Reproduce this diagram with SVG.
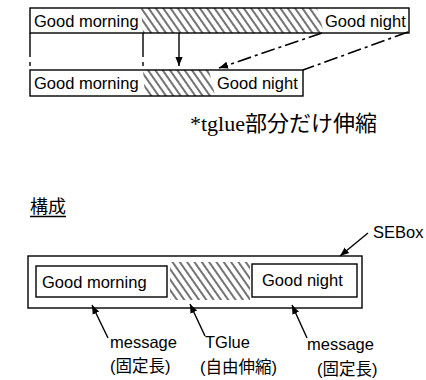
<svg xmlns="http://www.w3.org/2000/svg" width="426" height="380" viewBox="0 0 426 380">
<style>
.box{fill:none;stroke:#000;stroke-width:1.4}
.t{font-family:"Liberation Sans","Noto Sans CJK JP",sans-serif;font-size:16.5px;fill:#000}
.cap{font-family:"Liberation Serif","Noto Sans CJK JP",serif;font-size:22px;fill:#000}
.ln{stroke:#000;stroke-width:1.4;fill:none}
.dd{stroke:#000;stroke-width:1.6;fill:none;stroke-dasharray:14,4,3,4}
.vd{stroke:#000;stroke-width:1.4;fill:none;stroke-dasharray:24,5,4,6}
</style>
<defs>
<pattern id="hatch" patternUnits="userSpaceOnUse" width="6" height="8" patternTransform="rotate(-35)">
<line x1="3" y1="-1" x2="3" y2="9" stroke="#000" stroke-width="1.1"/>
</pattern>
<marker id="ah" viewBox="0 0 10 10" refX="10" refY="5" markerWidth="9" markerHeight="9" markerUnits="userSpaceOnUse" orient="auto-start-reverse">
<path d="M0,1 L10,5 L0,9 Z" fill="#000"/>
</marker>
</defs>

<g id="top-bar">
<polygon points="141,8 317,8 324,33 143,33" fill="url(#hatch)"/>
<rect class="box" x="30" y="8" width="379" height="25"/>
<text class="t" x="34" y="27">Good morning</text>
<text class="t" x="325" y="27">Good night</text>
</g>

<g id="bottom-bar">
<polygon points="143,70 209,70 215,96 145,96" fill="url(#hatch)"/>
<rect class="box" x="30" y="70" width="273" height="26"/>
<text class="t" x="34" y="89">Good morning</text>
<text class="t" x="217" y="89">Good night</text>
</g>

<g id="caption">
<text class="cap" x="190" y="131">*tglue部分だけ伸縮</text>
</g>

<g id="heading">
<text class="t" x="30" y="213" style="font-size:18px">構成</text>
<line class="ln" x1="30" y1="216.5" x2="66" y2="216.5"/>
</g>

<g id="sebox">
<rect class="box" x="28" y="256" width="334" height="52"/>
<text class="t" x="373" y="238">SEBox</text>
</g>

<g id="message-left">
<rect class="box" x="36" y="266" width="131" height="31"/>
<text class="t" x="42" y="288">Good morning</text>
</g>

<g id="tglue">
<rect x="170" y="262" width="80" height="38" fill="url(#hatch)"/>
</g>

<g id="message-right">
<rect class="box" x="252" y="264" width="105" height="33"/>
<text class="t" x="262" y="286">Good night</text>
</g>

<g id="labels">
<text class="t" x="110" y="348">message</text>
<text class="t" x="110" y="372">(固定長)</text>
<text class="t" x="205" y="348">TGlue</text>
<text class="t" x="200" y="373">(自由伸縮)</text>
<text class="t" x="307" y="350">message</text>
<text class="t" x="317" y="375">(固定長)</text>
</g>

<g id="connectors">
<line class="vd" x1="30" y1="33" x2="30" y2="70"/>
<line class="vd" x1="143" y1="33" x2="143" y2="70"/>
<line class="ln" x1="179" y1="33" x2="179" y2="66" marker-end="url(#ah)"/>
<line class="dd" x1="322" y1="33" x2="219" y2="68" marker-end="url(#ah)"/>
<line class="dd" x1="408" y1="32" x2="303" y2="70"/>
<line class="ln" x1="368" y1="233" x2="340" y2="256" marker-end="url(#ah)"/>
<line class="ln" x1="108" y1="338" x2="92" y2="305" marker-end="url(#ah)"/>
<line class="ln" x1="205" y1="336" x2="190" y2="304" marker-end="url(#ah)"/>
<line class="ln" x1="307" y1="338" x2="292" y2="305" marker-end="url(#ah)"/>
</g>
</svg>
